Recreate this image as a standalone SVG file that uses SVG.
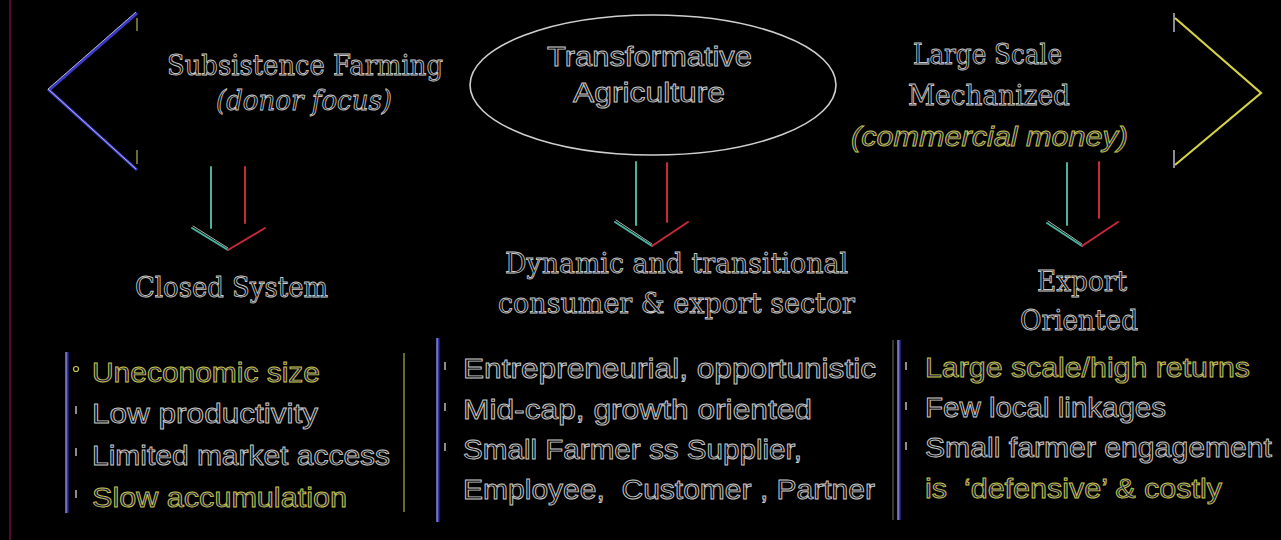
<svg xmlns="http://www.w3.org/2000/svg" width="1281" height="540" viewBox="0 0 1281 540">
<style>
.bg{fill:#000}
.t{font-family:"DejaVu Serif","Liberation Serif",serif;font-size:28px;fill:#080808;stroke:#c8c8c8;stroke-width:0.9}
.ti{font-style:italic}
.s{font-family:"Liberation Sans","Noto Sans",sans-serif;font-size:27px;fill:#080808;stroke:#c8c8c8;stroke-width:0.9}
.y{fill:#14145a;stroke:#c8c646}
.sh{fill:none;stroke-linecap:round}
.teal{stroke:#48b4a0;stroke-width:2}
.red{stroke:#c82838;stroke-width:2}
.hl{stroke:#e0e0e0;stroke-width:0.8}
.bul{stroke:#b0b0b0;stroke-width:1.6}
</style>
<rect class="bg" x="0" y="0" width="1281" height="540"/>
<line x1="10" y1="0" x2="10" y2="540" stroke="#6a1040" stroke-width="1.5"/>

<g id="chevron-left">
  <polyline points="137,13 49,90 137,170" fill="none" stroke="#3a3ac8" stroke-width="3"/>
  <polyline points="136,12 48,89 136,169" fill="none" stroke="#d8d8d8" stroke-width="0.8"/>
  <line x1="137" y1="18" x2="137" y2="31" stroke="#b8b050" stroke-width="1.2"/>
  <line x1="137" y1="150" x2="137" y2="164" stroke="#b8b050" stroke-width="1.2"/>
</g>
<g id="chevron-right">
  <polyline points="1175,18 1261,93 1175,165" fill="none" stroke="#d4d244" stroke-width="2.2"/>
  <line x1="1174" y1="13" x2="1174" y2="32" stroke="#c8c8d8" stroke-width="1.4"/>
  <line x1="1174" y1="150" x2="1174" y2="168" stroke="#c8c8d8" stroke-width="1.4"/>
</g>

<g id="subsistence">
  <text class="t" x="167" y="75" textLength="276" lengthAdjust="spacingAndGlyphs">Subsistence Farming</text>
  <text class="t ti" x="216" y="110" textLength="176" lengthAdjust="spacingAndGlyphs">(donor focus)</text>
</g>
<g id="transformative">
  <ellipse cx="653" cy="85" rx="183" ry="70" fill="none" stroke="#cfcfcf" stroke-width="1.6"/>
  <text class="s" x="547" y="66" font-size="27" textLength="205" lengthAdjust="spacingAndGlyphs">Transformative</text>
  <text class="s" x="573" y="102" font-size="27" textLength="152" lengthAdjust="spacingAndGlyphs">Agriculture</text>
</g>
<g id="large-scale">
  <text class="t" x="913" y="64" textLength="149" lengthAdjust="spacingAndGlyphs">Large Scale</text>
  <text class="t" x="908" y="105" textLength="162" lengthAdjust="spacingAndGlyphs">Mechanized</text>
  <text class="s y ti" x="851" y="146" textLength="277" lengthAdjust="spacingAndGlyphs">(commercial money)</text>
</g>

<g id="connectors">
  <g id="arrow-left">
    <line class="sh teal" x1="211" y1="167" x2="211" y2="228"/>
    <line class="sh red" x1="245" y1="167" x2="245" y2="223"/>
    <polyline class="sh teal" points="192,228 228,250"/>
    <polyline class="sh hl" points="193,226 228,248"/>
    <polyline class="sh red" points="228,250 265,228"/>
  </g>
  <g id="arrow-mid">
    <line class="sh teal" x1="636" y1="162" x2="636" y2="225"/>
    <line class="sh red" x1="667" y1="163" x2="667" y2="222"/>
    <polyline class="sh teal" points="615,222 652,246"/>
    <polyline class="sh hl" points="616,220 652,244"/>
    <polyline class="sh red" points="652,246 688,222"/>
  </g>
  <g id="arrow-right">
    <line class="sh teal" x1="1067" y1="163" x2="1067" y2="225"/>
    <line class="sh red" x1="1099" y1="162" x2="1099" y2="218"/>
    <polyline class="sh teal" points="1047,223 1082,246"/>
    <polyline class="sh hl" points="1048,221 1082,244"/>
    <polyline class="sh red" points="1082,246 1118,222"/>
  </g>
</g>

<g id="closed-system">
  <text class="t" x="135" y="297" textLength="193" lengthAdjust="spacingAndGlyphs">Closed System</text>
</g>
<g id="dynamic">
  <text class="t" x="505" y="273" textLength="343" lengthAdjust="spacingAndGlyphs">Dynamic and transitional</text>
  <text class="t" x="498" y="313" textLength="357" lengthAdjust="spacingAndGlyphs">consumer &amp; export sector</text>
</g>
<g id="export">
  <text class="t" x="1037" y="291" textLength="90" lengthAdjust="spacingAndGlyphs">Export</text>
  <text class="t" x="1020" y="330" textLength="118" lengthAdjust="spacingAndGlyphs">Oriented</text>
</g>

<g id="box-left">
  <line x1="67" y1="352" x2="67" y2="513" stroke="#3030b8" stroke-width="3"/>
  <line x1="66" y1="352" x2="66" y2="513" stroke="#d8d8d8" stroke-width="0.8"/>
  <line x1="404" y1="353" x2="404" y2="512" stroke="#8a8a40" stroke-width="1.5"/>
  <circle cx="76" cy="369" r="2.5" fill="none" stroke="#c8c646" stroke-width="1.2"/>
  <line class="bul" x1="76" y1="406" x2="76" y2="414"/>
  <line class="bul" x1="76" y1="448" x2="76" y2="456"/>
  <line class="bul" x1="76" y1="490" x2="76" y2="498" stroke="#a8a840"/>
  <text class="s y" x="92" y="382" textLength="228" lengthAdjust="spacingAndGlyphs">Uneconomic size</text>
  <text class="s" x="92" y="423" textLength="226" lengthAdjust="spacingAndGlyphs">Low productivity</text>
  <text class="s" x="92" y="465" textLength="298" lengthAdjust="spacingAndGlyphs">Limited market access</text>
  <text class="s y" x="92" y="507" textLength="255" lengthAdjust="spacingAndGlyphs">Slow accumulation</text>
</g>
<g id="box-mid">
  <line x1="438" y1="338" x2="438" y2="522" stroke="#3030b8" stroke-width="3"/>
  <line x1="437" y1="338" x2="437" y2="522" stroke="#d8d8d8" stroke-width="0.8"/>
  <line x1="893" y1="340" x2="893" y2="520" stroke="#4a4a3a" stroke-width="1.5"/>
  <line class="bul" x1="445" y1="362" x2="445" y2="370" stroke="#a8a840"/>
  <line class="bul" x1="445" y1="403" x2="445" y2="411"/>
  <line class="bul" x1="445" y1="443" x2="445" y2="451"/>
  <text class="s" x="463" y="378" textLength="413" lengthAdjust="spacingAndGlyphs">Entrepreneurial, opportunistic</text>
  <text class="s" x="463" y="419" textLength="349" lengthAdjust="spacingAndGlyphs">Mid-cap, growth oriented</text>
  <text class="s" x="463" y="459" textLength="339" lengthAdjust="spacingAndGlyphs">Small Farmer ss Supplier,</text>
  <text class="s" x="463" y="499" textLength="412" lengthAdjust="spacingAndGlyphs" xml:space="preserve">Employee,  Customer , Partner</text>
</g>
<g id="box-right">
  <line x1="899" y1="340" x2="899" y2="520" stroke="#3838c0" stroke-width="3"/>
  <line x1="898" y1="340" x2="898" y2="520" stroke="#d8d8d8" stroke-width="0.8"/>
  <line class="bul" x1="906" y1="362" x2="906" y2="370" stroke="#a8a840"/>
  <line class="bul" x1="906" y1="402" x2="906" y2="410"/>
  <line class="bul" x1="906" y1="442" x2="906" y2="450"/>
  <text class="s y" x="925" y="377" textLength="325" lengthAdjust="spacingAndGlyphs">Large scale/high returns</text>
  <text class="s" x="925" y="417" textLength="241" lengthAdjust="spacingAndGlyphs">Few local linkages</text>
  <text class="s" x="925" y="457" textLength="347" lengthAdjust="spacingAndGlyphs">Small farmer engagement</text>
  <text class="s y" x="925" y="498" textLength="297" lengthAdjust="spacingAndGlyphs" xml:space="preserve">is  ‘defensive’ &amp; costly</text>
</g>
</svg>
